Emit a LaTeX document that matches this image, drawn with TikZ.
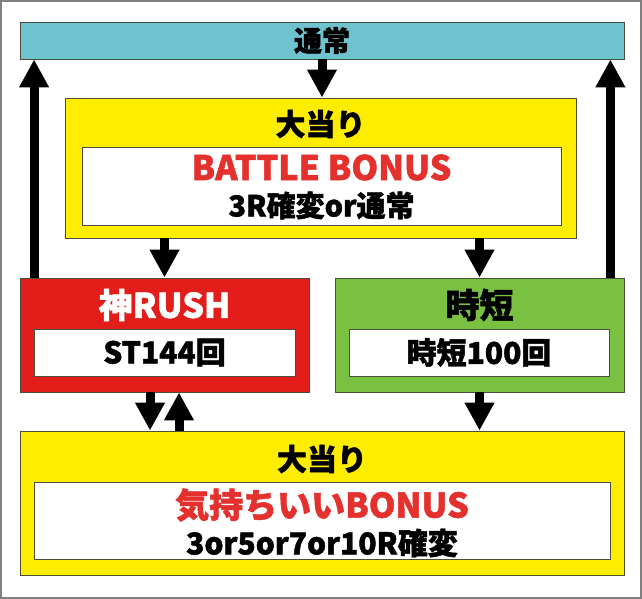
\documentclass[tikz,border=0pt]{standalone}
\usepackage{fontspec}
\setmainfont{Noto Sans CJK JP}[BoldFeatures={FakeBold=1.5}]
\usepackage{xcolor}
\usetikzlibrary{arrows.meta}

\definecolor{tsujoblue}{RGB}{111,195,207}
\definecolor{ooyellow}{RGB}{255,237,0}
\definecolor{rushred}{RGB}{227,30,26}
\definecolor{jitangreen}{RGB}{122,193,66}
\definecolor{bonusred}{RGB}{228,49,46}
\definecolor{edgegray}{RGB}{77,77,60}

\begin{document}
\begin{tikzpicture}[x=1pt, y=-1pt,
  panel/.style={rectangle, draw=edgegray, line width=0.8pt, inner sep=0pt},
  inbox/.style={panel, fill=white},
  flow/.style={line width=9pt, -{Triangle[width=28pt,length=28pt]}},
  big/.style={font=\bfseries\fontsize{#1}{#1}\selectfont, inner sep=0pt}]
\useasboundingbox (0,0) rectangle (642,599);
\draw[gray, line width=2pt] (1,1) rectangle (641,598);

\node[panel, 
      fill=tsujoblue, 
      minimum width=604pt, 
      minimum height=37pt] (tsujo) at (322,40.5) {};
\node[big=28] (tsujot) at (322,40.5) {通常};

\node[panel, 
      fill=ooyellow, 
      minimum width=511pt, 
      minimum height=140pt] (oo1) at (320.5,168) {};
\node[big=30] (oo1t) at (320.5,124) {大当り};
\node[inbox, 
      minimum width=479pt, 
      minimum height=78pt] (oo1in) at (321.5,186) {};
\node[big=34, text=bonusred] (battle) at (321.5,167.5) {BATTLE BONUS};
\node[big=29] (battlesub) at (321.5,205.5) {3R確変or通常};

\node[panel, 
      fill=rushred, 
      minimum width=289pt, 
      minimum height=114pt] (rush) at (164.5,335) {};
\node[big=34, text=white] (rusht) at (164.5,305) {神RUSH};
\node[inbox, 
      minimum width=261pt, 
      minimum height=47pt] (rushin) at (164.5,352.5) {};
\node[big=30] (rushst) at (164.5,352.5) {ST144回};

\node[panel, 
      fill=jitangreen, 
      minimum width=289pt, 
      minimum height=114pt] (jitan) at (479.5,335) {};
\node[big=34] (jitant) at (479.5,305) {時短};
\node[inbox, 
      minimum width=260pt, 
      minimum height=47pt] (jitanin) at (479,352.5) {};
\node[big=30] (jitancnt) at (479,352.5) {時短100回};

\node[panel, 
      fill=ooyellow, 
      minimum width=604pt, 
      minimum height=144pt] (oo2) at (322,503) {};
\node[big=30] (oo2t) at (322,459) {大当り};
\node[inbox, 
      minimum width=576pt, 
      minimum height=77pt] (oo2in) at (322,520.5) {};
\node[big=34, text=bonusred] (kimochi) at (322,505) {気持ちいいBONUS};
\node[big=30] (kimochisub) at (322,543) {3or5or7or10R確変};

\draw[flow] (tsujo.south) -- (tsujo.south |- oo1.north);
\draw[flow] (oo1.south -| rush.north) -- (rush.north);
\draw[flow] (oo1.south -| jitan.north) -- (jitan.north);
\draw[flow] ([xshift=14.5pt]rush.north west) -- ([xshift=14.5pt]rush.north west |- tsujo.south);
\draw[flow] ([xshift=-14pt]jitan.north east) -- ([xshift=-14pt]jitan.north east |- tsujo.south);
\draw[flow] ([xshift=-14.5pt]rush.south) -- ([xshift=-14.5pt]rush.south |- oo2.north);
\draw[flow] ([xshift=14.5pt]rush.south |- oo2.north) -- ([xshift=14.5pt]rush.south);
\draw[flow] (jitan.south) -- (jitan.south |- oo2.north);
\end{tikzpicture}
\end{document}
